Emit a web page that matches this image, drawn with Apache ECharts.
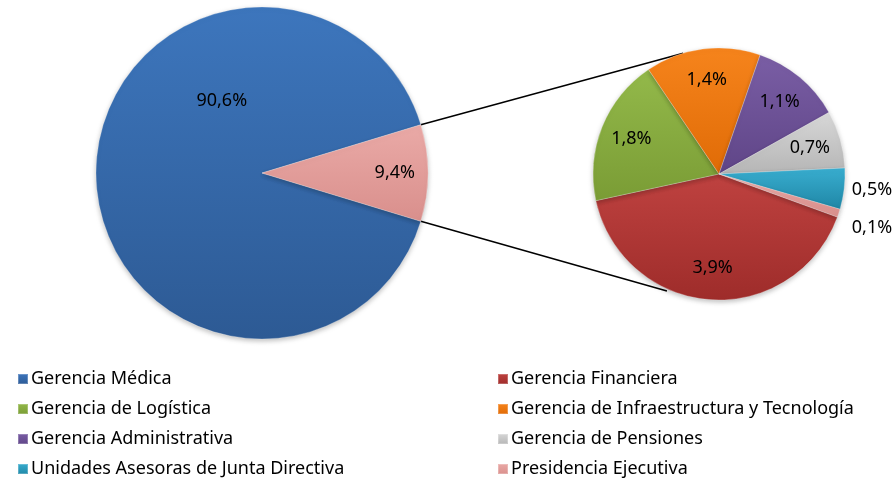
<!DOCTYPE html>
<html>
<head>
<meta charset="utf-8">
<script src="https://cdn.jsdelivr.net/npm/echarts@6/dist/echarts.min.js"></script>
<style>
  html, body { margin: 0; padding: 0; background: #fff; }
  #chart { width: 896px; height: 483px; }
</style>
</head>
<body>
<div id="chart"></div>
<script>
// datos (porcentajes)
var mainNames = ['Gerencia Médica', 'Otros'];
var mainValues = [90.6, 9.4];

var detailNames = ['Gerencia Financiera', 'Gerencia de Logística', 'Gerencia de Infraestructura y Tecnología',
  'Gerencia Administrativa', 'Gerencia de Pensiones', 'Unidades Asesoras de Junta Directiva', 'Presidencia Ejecutiva'];
var detailValues = [3.9, 1.8, 1.4, 1.1, 0.7, 0.5, 0.1];

var legendLeft = ['Gerencia Médica', 'Gerencia de Logística', 'Gerencia Administrativa', 'Unidades Asesoras de Junta Directiva'];
var legendRight = ['Gerencia Financiera', 'Gerencia de Infraestructura y Tecnología', 'Gerencia de Pensiones', 'Presidencia Ejecutiva'];

// colores [claro, oscuro]
var colors = {
  'Gerencia Médica': ['#3d76bd', '#2d5a94'],
  'Otros': ['#eaaaa7', '#d98f8c'],
  'Gerencia Financiera': ['#bf4240', '#9e2c2a'],
  'Gerencia de Logística': ['#93b94a', '#7a9c35'],
  'Gerencia de Infraestructura y Tecnología': ['#f6841c', '#e06b06'],
  'Gerencia Administrativa': ['#7a5ea5', '#5f4587'],
  'Gerencia de Pensiones': ['#d8d8d8', '#b5b5b5'],
  'Unidades Asesoras de Junta Directiva': ['#39aed0', '#1f86a5'],
  'Presidencia Ejecutiva': ['#eaaaa7', '#d98f8c']
};

// geometria
var C1 = [262, 173], R1 = 166, START1 = 343.08;
var C2 = [719, 174], R2 = 126, START2 = 340;
var FONT = 'Noto Sans';

function grad(name) {
  var c = colors[name];
  return new echarts.graphic.LinearGradient(0, 0, 0, 1, [
    { offset: 0, color: c[0] }, { offset: 1, color: c[1] }
  ]);
}

function midAngles(values, start) {
  var total = values.reduce(function (a, b) { return a + b; }, 0);
  var a = start;
  return values.map(function (v) {
    var sweep = v / total * 360;
    var m = a - sweep / 2;
    a -= sweep;
    return m;
  });
}

function polar(c, r, deg) {
  var t = deg * Math.PI / 180;
  return [c[0] + r * Math.cos(t), c[1] - r * Math.sin(t)];
}

function fmt(v) { return v.toFixed(1).replace('.', ',') + '%'; }

var mid1 = midAngles(mainValues, START1);
var mid2 = midAngles(detailValues, START2);

// posiciones de etiquetas (angulo, fraccion de radio) al estilo Excel
var spots1 = [[119, 0.5], [mid1[1], 0.8]];
var spots2 = detailValues.map(function (v, i) { return [mid2[i], 0.75]; });
var outside2 = { 5: [153, 16], 6: [153, 54] };

function toData(names, values) {
  return names.map(function (n, i) {
    return { name: n, value: values[i], itemStyle: { color: grad(n) } };
  });
}

var chart = echarts.init(document.getElementById('chart'));

var p1a = polar(C1, R1, START1), p1b = polar(C1, R1, 360 - START1);
var p2a = polar(C2, R2, 106.5), p2b = polar(C2, R2 + 2, 246);

var legendCommon = {
  orient: 'vertical',
  icon: 'rect',
  itemWidth: 10,
  itemHeight: 10,
  itemGap: 12,
  padding: 0,
  height: 112,
  textStyle: { fontFamily: FONT, fontSize: 18, color: '#000', padding: [0, 0, 0, -2] },
  selectedMode: false
};

var labelStyle = {
  position: 'inside',
  formatter: function (p) { return fmt(p.value); },
  fontFamily: FONT, fontSize: 18, color: '#000'
};

var sliceStyle = { borderColor: 'rgba(255,255,255,0.25)', borderWidth: 1, shadowBlur: 5, shadowColor: 'rgba(0,0,0,0.25)', shadowOffsetY: 2 };

chart.setOption({
  backgroundColor: '#fff',
  animation: false,
  legend: [
    Object.assign({ data: legendLeft, left: 17, top: 370 }, legendCommon),
    Object.assign({ data: legendRight, left: 497, top: 370 }, legendCommon)
  ],
  graphic: [
    { type: 'line', shape: { x1: p1b[0], y1: p1b[1], x2: p2a[0], y2: p2a[1] }, style: { stroke: '#000', lineWidth: 1.5 }, z: 1 },
    { type: 'line', shape: { x1: p1a[0], y1: p1a[1], x2: p2b[0], y2: p2b[1] }, style: { stroke: '#000', lineWidth: 1.5 }, z: 1 }
  ],
  series: [
    {
      type: 'pie',
      center: C1,
      radius: R1,
      startAngle: START1,
      clockwise: true,
      z: 3,
      data: toData(mainNames, mainValues),
      itemStyle: sliceStyle,
      label: labelStyle,
      labelLine: { show: false },
      labelLayout: function (p) {
        var s = spots1[p.dataIndex];
        var pt = polar(C1, R1 * s[1], s[0]);
        return { x: pt[0], y: pt[1], align: 'center', verticalAlign: 'middle' };
      },
      emphasis: { disabled: true }
    },
    {
      type: 'pie',
      center: C2,
      radius: R2,
      startAngle: START2,
      clockwise: true,
      z: 3,
      data: toData(detailNames, detailValues),
      itemStyle: sliceStyle,
      label: labelStyle,
      labelLine: { show: false },
      labelLayout: function (p) {
        var o = outside2[p.dataIndex];
        if (o) return { x: C2[0] + o[0], y: C2[1] + o[1], align: 'center', verticalAlign: 'middle' };
        var s = spots2[p.dataIndex];
        var pt = polar(C2, R2 * s[1], s[0]);
        return { x: pt[0], y: pt[1], align: 'center', verticalAlign: 'middle' };
      },
      emphasis: { disabled: true }
    }
  ]
});
</script>
</body>
</html>
